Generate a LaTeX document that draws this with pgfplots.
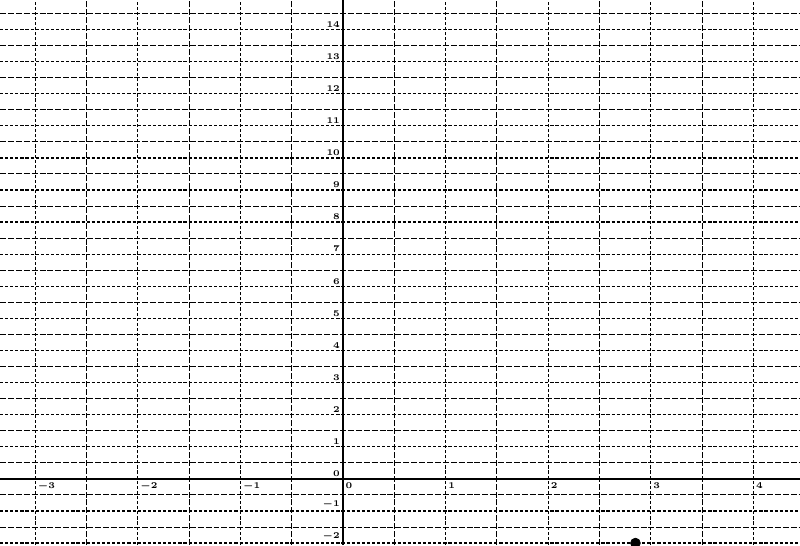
\documentclass[border=0pt]{standalone}
\usepackage{pgfplots}
\pgfplotsset{compat=1.18}
\begin{document}
\begin{tikzpicture}
\begin{axis}[
  at={(0,0)}, anchor=south west,
  scale only axis, width=16cm, height=10.9cm,
  xmin=-3.343, xmax=4.454,
  ymin=-2.06, ymax=14.92,
  axis lines=middle,
  axis line style={-, line width=1.2pt, black},
  xtick={-3,-2,-1,0,1,2,3,4},
  ytick={-2,-1,0,1,2,3,4,5,6,7,8,9,10,11,12,13,14},
  minor xtick={-3.5,-2.5,-1.5,-0.5,0.5,1.5,2.5,3.5,4.5},
  minor ytick={-1.5,-0.5,0.5,1.5,2.5,3.5,4.5,5.5,6.5,7.5,8.5,9.5,10.5,11.5,12.5,13.5,14.5},
  grid=both,
  major grid style={line width=0.75pt, black, dash pattern=on 1.8pt off 1.1pt},
  minor grid style={line width=0.55pt, black, dash pattern=on 3.4pt off 1.1pt},
  major tick length=0pt, minor tick length=0pt,
  tick style={draw=none},
  ticklabel style={font=\fontsize{4.8}{5}\selectfont\bfseries\boldmath, inner sep=0.8pt},
  xticklabel style={anchor=north west, xshift=0.5pt, yshift=-1pt},
  yticklabel style={anchor=south east, xshift=-0.8pt, yshift=0.3pt},
  extra x ticks={0}, extra y ticks={0},
  extra tick style={grid=none},
  clip=true,
]
\addplot[only marks, mark=*, mark size=2.8pt, black] coordinates {(2.85,-2)};
\end{axis}
\pgfresetboundingbox
\useasboundingbox (0,0) rectangle (16cm,10.9cm);
\end{tikzpicture}
\end{document}
